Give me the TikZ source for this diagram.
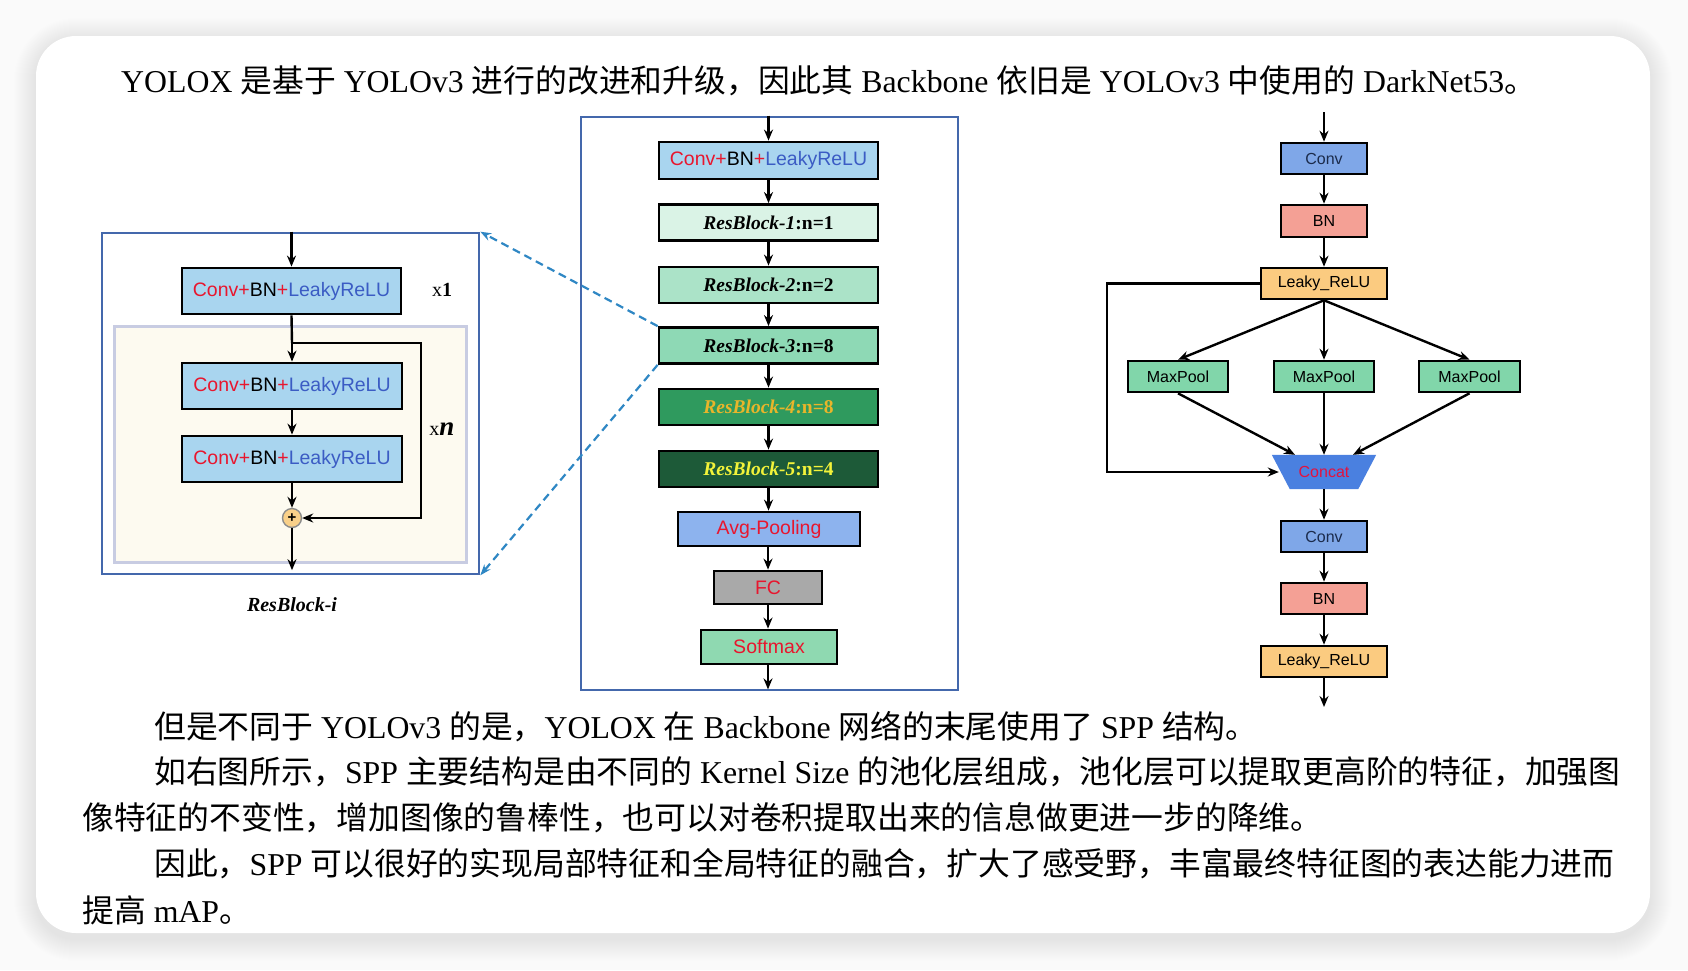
\documentclass[tikz,border=0pt]{standalone}
\usepackage{fontspec}
\setmainfont{Liberation Serif}
\newfontfamily\cjk{Noto Sans CJK SC}
\newfontfamily\arialf{Liberation Sans}
\usetikzlibrary{arrows.meta,calc}
\definecolor{cred}{HTML}{E8162E}
\definecolor{cblue}{HTML}{3B5CC4}
\definecolor{cblfill}{HTML}{A9D5EF}
\definecolor{boxblue}{HTML}{4468AC}
\definecolor{innerfill}{HTML}{FDFAF0}
\definecolor{innerdraw}{HTML}{C8CCE2}
\definecolor{rone}{HTML}{DAF3E6}
\definecolor{rtwo}{HTML}{ABE3C8}
\definecolor{rthree}{HTML}{8ED9B5}
\definecolor{rfour}{HTML}{2F9A5E}
\definecolor{rfourtxt}{HTML}{E9B52A}
\definecolor{rfive}{HTML}{1D5A38}
\definecolor{rfivetxt}{HTML}{F3F33A}
\definecolor{avgfill}{HTML}{8DB3EE}
\definecolor{fcfill}{HTML}{A9A9A9}
\definecolor{softfill}{HTML}{8FD9B1}
\definecolor{sconv}{HTML}{7FA7E8}
\definecolor{sconvtxt}{HTML}{1B2B4B}
\definecolor{sbn}{HTML}{F4A095}
\definecolor{slr}{HTML}{FBCB80}
\definecolor{smp}{HTML}{81D6AA}
\definecolor{sconcat}{HTML}{4A80E0}
\definecolor{sconcattxt}{HTML}{E3123E}
\definecolor{plusfill}{HTML}{F9D089}
\definecolor{dashcol}{HTML}{2F87C4}
\definecolor{bgcol}{HTML}{FAFAFA}
\newcommand\zh[1]{{\cjk #1}}
\newcommand\cblabel{\textcolor{cred}{Conv+}BN\textcolor{cred}{+}\textcolor{cblue}{LeakyReLU}}
\newcommand\rblabel[2]{\textbf{\textit{ResBlock-#1}:n=#2}}
\begin{document}
\begin{tikzpicture}[x=1pt,y=-1pt,
  blk/.style={draw=black,line width=2.8pt,inner sep=0pt,minimum height=36pt,
     font=\arialf\fontsize{19.5}{22}\selectfont},
  rblk/.style={blk,minimum width=219pt,font=\fontsize{19.5}{22}\selectfont},
  sblk/.style={draw=black,line width=2.6pt,inner sep=0pt,minimum height=31pt,
     font=\arialf\fontsize{16}{18}\selectfont},
  arr/.style={draw=black,line width=2.4pt,-{Stealth[length=11pt,width=9pt]}},
  dashline/.style={draw=dashcol,line width=2.2pt,dash pattern=on 8pt off 5pt,
     -{Stealth[length=11pt,width=8pt]}},
  para/.style={anchor=base west,inner sep=0pt,font=\fontsize{31.8}{38}\selectfont}]
\useasboundingbox (0,0) rectangle (1688,970);
\fill[bgcol] (0,0) rectangle (1688,970);
% shadow
\foreach \i in {1,...,22}{
  \fill[black,opacity=0.005,rounded corners={40pt+\i pt}]
    ({36-\i},{40-\i}) rectangle ({1650+\i},{939+\i});
}
\fill[white,rounded corners=40pt] (36,36) rectangle (1650,933);

% ---------- text ----------
\node[para] (t0) at (121,92) {YOLOX \zh{是基于} YOLOv3 \zh{进行的改进和升级，因此其} Backbone \zh{依旧是} YOLOv3 \zh{中使用的} DarkNet53\zh{。}};
\node[para] (t1) at (154,738) {\zh{但是不同于} YOLOv3 \zh{的是，}YOLOX \zh{在} Backbone \zh{网络的末尾使用了} SPP \zh{结构。}};
\node[para] (t2) at (154,783) {\zh{如右图所示，}SPP \zh{主要结构是由不同的} Kernel Size \zh{的池化层组成，池化层可以提取更高阶的特征，加强图}};
\node[para] (t3) at (82,829) {\zh{像特征的不变性，增加图像的鲁棒性，也可以对卷积提取出来的信息做更进一步的降维。}};
\node[para] (t4) at (154,875) {\zh{因此，}SPP \zh{可以很好的实现局部特征和全局特征的融合，扩大了感受野，丰富最终特征图的表达能力进而}};
\node[para] (t5) at (82,922) {\zh{提高} mAP\zh{。}};

% ---------- left: ResBlock-i ----------
\node[draw=boxblue,line width=2.6pt,minimum width=377pt,minimum height=341pt,inner sep=0pt] (resbox) at (290.5,403.5) {};
\node[draw=innerdraw,fill=innerfill,line width=3pt,minimum width=352pt,minimum height=236pt,inner sep=0pt] (inner) at (290,444) {};
\node[blk,fill=cblfill,minimum width=219pt,minimum height=46pt] (b1) at (291.5,291) {\cblabel};
\node[blk,fill=cblfill,minimum width=220pt,minimum height=46pt] (b2) at (292,386) {\cblabel};
\node[blk,fill=cblfill,minimum width=220pt,minimum height=46pt] (b3) at (292,459) {\cblabel};
\node[circle,draw=black!45,fill=plusfill,line width=1.4pt,minimum size=19pt,inner sep=0pt,
      font=\arialf\bfseries\fontsize{15}{15}\selectfont] (plus) at (292,518) {+};
\coordinate (br) at (292,343);
\draw[arr] (resbox.north -| b1.north) -- (b1.north);
\draw[line width=2.4pt] (b1.south) -- (br);
\draw[arr] (br) -- (b2.north);
\draw[arr] (br) -- ++(129,0) |- (plus.east);
\draw[arr] (b2.south) -- (b3.north);
\draw[arr] (b3.south) -- (plus.north);
\draw[arr] (plus.south) -- ++(0,42);
\node[font=\fontsize{20}{22}\selectfont] (x1) at (442,290) {x\textbf{1}};
\node[font=\fontsize{20}{22}\selectfont] (xn) at (442,429) {x{\fontsize{27}{27}\selectfont\textbf{\textit{n}}}};
\node[font=\fontsize{20}{22}\selectfont] (rbi) at (292,605) {\textbf{\textit{ResBlock-i}}};

% ---------- middle: DarkNet53 ----------
\node[draw=boxblue,line width=2.6pt,minimum width=377pt,minimum height=573pt,inner sep=0pt] (mbox) at (769.5,403.5) {};
\node[blk,fill=cblfill,minimum width=219pt,minimum height=37pt] (c1) at (768.5,160.5) {\cblabel};
\node[rblk,fill=rone] (r1) at (768.5,222.5) {\rblabel{1}{1}};
\node[rblk,fill=rtwo] (r2) at (768.5,285) {\rblabel{2}{2}};
\node[rblk,fill=rthree] (r3) at (768.5,345.5) {\rblabel{3}{8}};
\node[rblk,fill=rfour,text=rfourtxt] (r4) at (768.5,407) {\rblabel{4}{8}};
\node[rblk,fill=rfive,text=rfivetxt] (r5) at (768.5,469) {\rblabel{5}{4}};
\node[blk,fill=avgfill,text=cred,minimum width=182pt,minimum height=34pt] (avg) at (769,529) {Avg-Pooling};
\node[blk,fill=fcfill,text=cred,minimum width=108pt,minimum height=33pt] (fc) at (768,587.5) {FC};
\node[blk,fill=softfill,text=cred,minimum width=136pt,minimum height=34pt] (soft) at (769,647) {Softmax};
\draw[arr] (mbox.north -| c1.north) -- (c1.north);
\draw[arr] (c1) -- (r1);
\draw[arr] (r1) -- (r2);
\draw[arr] (r2) -- (r3);
\draw[arr] (r3) -- (r4);
\draw[arr] (r4) -- (r5);
\draw[arr] (r5.south) -- (r5.south |- avg.north);
\draw[arr] (avg.south -| fc.north) -- (fc.north);
\draw[arr] (fc.south) -- (fc.south |- soft.north);
\draw[arr] (soft.south -| fc.south) -- ++(0,24);
% dashed zoom lines
\draw[dashline] (r3.north west) -- (resbox.north east);
\draw[dashline] (r3.south west) -- (resbox.south east);

% ---------- right: SPP ----------
\coordinate (sppin) at (1324,112);
\node[sblk,fill=sconv,text=sconvtxt,minimum width=86pt] (sc1) at (1324,158.5) {Conv};
\node[sblk,fill=sbn,minimum width=86pt,minimum height=32pt] (sb1) at (1324,221) {BN};
\node[sblk,fill=slr,minimum width=126pt] (sl1) at (1324,283.5) {Leaky\_ReLU};
\node[sblk,fill=smp,minimum width=100pt] (mp1) at (1178,376.5) {MaxPool};
\node[sblk,fill=smp,minimum width=100pt] (mp2) at (1324,376.5) {MaxPool};
\node[sblk,fill=smp,minimum width=101pt] (mp3) at (1469.5,376.5) {MaxPool};
\path node[minimum width=104pt,minimum height=34pt,inner sep=0pt] (concat) at (1324,472) {};
\fill[sconcat] (concat.north west) -- (concat.north east) -- ($(concat.south east)+(-18,0)$) -- ($(concat.south west)+(18,0)$) -- cycle;
\node[text=sconcattxt,font=\arialf\fontsize{16}{18}\selectfont] (concattxt) at (concat) {Concat};
\node[sblk,fill=sconv,text=sconvtxt,minimum width=86pt] (sc2) at (1324,536.5) {Conv};
\node[sblk,fill=sbn,minimum width=86pt] (sb2) at (1324,598.5) {BN};
\node[sblk,fill=slr,minimum width=126pt] (sl2) at (1324,661.5) {Leaky\_ReLU};
\coordinate (sppout) at (1324,707);
\draw[arr] (sppin) -- (sc1);
\draw[arr] (sc1) -- (sb1);
\draw[arr] (sb1) -- (sl1);
\draw[arr] (sl1.south) -- (mp1.north);
\draw[arr] (sl1.south) -- (mp2.north);
\draw[arr] (sl1.south) -- (mp3.north);
\draw[arr] (mp1.south) -- ($(concat.north)+(-29,0)$);
\draw[arr] (mp2.south) -- (concat.north);
\draw[arr] (mp3.south) -- ($(concat.north)+(29,0)$);
\draw[arr] (sl1.west) -- ++(-153,0) |- ($(concat.west)+(7,0)$);
\draw[arr] (concat.south) -- (sc2.north);
\draw[arr] (sc2) -- (sb2);
\draw[arr] (sb2) -- (sl2);
\draw[arr] (sl2.south) -- (sppout);
\end{tikzpicture}
\end{document}
